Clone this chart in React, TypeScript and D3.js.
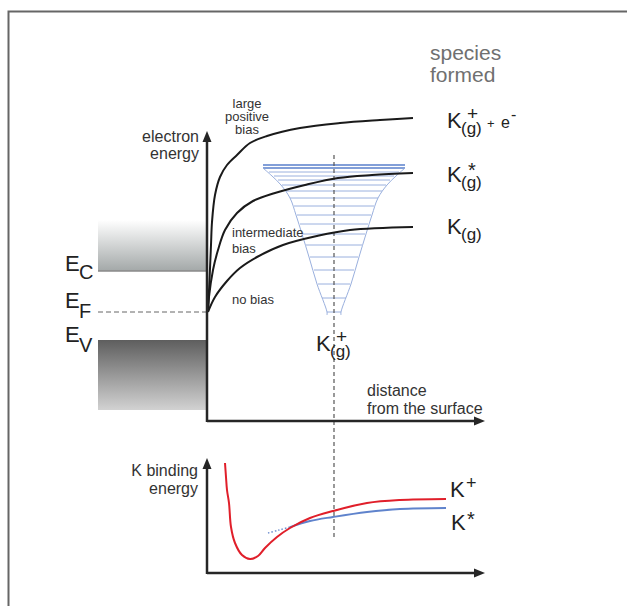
import * as d3 from "d3";

// distance from surface (arbitrary units) vs electron energy (arbitrary units)
const largeBias: [number, number][] = [
  [1, 109], [2.5, 141], [4, 176], [5, 199], [8, 226], [13, 244], [20, 256], [30, 266],
  [43, 278], [60, 285], [93, 293], [133, 298], [173, 301], [206, 303],
];
const intermediateBias: [number, number][] = [
  [1, 109], [2, 124], [6, 151], [11, 171], [18, 191], [30, 208], [46, 220], [68, 228],
  [98, 236], [131, 243], [165, 246], [206, 248],
];
const noBias: [number, number][] = [
  [1, 109], [8, 124], [20, 140], [33, 153], [50, 164], [76, 176], [110, 185], [143, 191], [206, 194],
];

// band edges (energy)
const conductionBand = [150, 201];
const valenceBand = [11, 81];
const fermiLevel = 109;
const bulkDepth = -109;

// K+ potential well: [energy, half width]
const ionCentre = 127;
const wellLevels: [number, number][] = [
  [256, 71], [253, 71], [249, 65], [245, 60], [241, 56], [236, 52], [230, 48], [223, 44],
  [215, 40], [206, 37], [197, 34], [187, 31], [176, 28], [164, 24], [151, 20], [137, 16],
  [123, 12], [109, 7],
];
const wellWall: [number, number][] = [
  [253, 71], [245, 62], [236, 53], [223, 44], [206, 38], [187, 32], [164, 25], [137, 17], [109, 7], [106, 7],
];

// binding energy vs distance
const kIon: [number, number][] = [
  [18, 110], [19, 96], [20, 83], [22, 70], [24, 46], [28, 30], [35, 18], [43, 14], [51, 17],
  [58, 25], [70, 36], [83, 45], [103, 55], [126, 62], [160, 70], [193, 73], [239, 74],
];
const kExcitedDotted: [number, number][] = [[61, 40], [72, 43], [83, 46]];
const kExcited: [number, number][] = [
  [83, 46], [103, 52], [126, 56], [160, 61], [193, 64], [239, 65],
];

const W = 627;
const H = 606;
const FONT = "'Liberation Sans', Arial, sans-serif";

export default function App() {
  const x = d3.scaleLinear().domain([0, 278]).range([207, 485]);
  const y = d3.scaleLinear().domain([0, 290]).range([421, 131]);
  const y2 = d3.scaleLinear().domain([0, 115]).range([573, 458]);

  const smooth = d3.curveCatmullRom.alpha(0.5);
  const line = d3.line<[number, number]>().x(d => x(d[0])).y(d => y(d[1])).curve(smooth);
  const line2 = d3.line<[number, number]>().x(d => x(d[0])).y(d => y2(d[1])).curve(smooth);
  const wallL = d3.line<[number, number]>().x(d => x(ionCentre - d[1])).y(d => y(d[0])).curve(smooth);
  const wallR = d3.line<[number, number]>().x(d => x(ionCentre + d[1])).y(d => y(d[0])).curve(smooth);

  const ax = "#262626";
  const x0 = x(0);
  const wellBlue = "#9ab0de";

  return (
    <svg width={W} height={H} style={{ position: "absolute", left: 0, top: 0, background: "#fff" }} fontFamily={FONT}>
      <defs>
        <linearGradient id="cb" x1="0" y1="0" x2="0" y2="1">
          <stop offset="0" stopColor="#ffffff" />
          <stop offset="1" stopColor="#a3a8a8" />
        </linearGradient>
        <linearGradient id="vb" x1="0" y1="0" x2="0" y2="1">
          <stop offset="0" stopColor="#5e5e5e" />
          <stop offset="1" stopColor="#d2d2d2" />
        </linearGradient>
      </defs>

      <rect x={8.5} y={11.5} width={700} height={700} fill="none" stroke="#666" strokeWidth={2} />

      {/* bands */}
      <rect x={x(bulkDepth)} y={y(conductionBand[1])} width={x0 - x(bulkDepth)}
        height={y(conductionBand[0]) - y(conductionBand[1])} fill="url(#cb)" />
      <line x1={x(bulkDepth)} x2={x0} y1={y(conductionBand[0])} y2={y(conductionBand[0])} stroke="#8a8a8a" strokeWidth={1.5} />
      <rect x={x(bulkDepth)} y={y(valenceBand[1])} width={x0 - x(bulkDepth)}
        height={y(valenceBand[0]) - y(valenceBand[1])} fill="url(#vb)" />
      <line x1={x(bulkDepth)} x2={x0} y1={y(fermiLevel)} y2={y(fermiLevel)} stroke="#666" strokeWidth={1} strokeDasharray="5,3" />

      {/* potential well */}
      {wellLevels.map((d, i) => (
        <line key={i} x1={x(ionCentre - d[1])} x2={x(ionCentre + d[1])} y1={y(d[0])} y2={y(d[0])}
          stroke={i < 2 ? "#829fd8" : wellBlue} strokeWidth={i < 2 ? 2 : 1} />
      ))}
      <path d={wallL(wellWall) ?? ""} fill="none" stroke={wellBlue} strokeWidth={1} />
      <path d={wallR(wellWall) ?? ""} fill="none" stroke={wellBlue} strokeWidth={1} />

      {/* dashed ion position */}
      <line x1={x(ionCentre)} x2={x(ionCentre)} y1={155} y2={539} stroke="#555" strokeWidth={1.2} strokeDasharray="4,3" />

      {/* energy curves */}
      {[largeBias, intermediateBias, noBias].map((c, i) => (
        <path key={i} d={line(c) ?? ""} fill="none" stroke="#1a1a1a" strokeWidth={2} />
      ))}

      {/* upper axes */}
      <line x1={x0} x2={x0} y1={y(0) + 1} y2={y(285)} stroke={ax} strokeWidth={2.5} />
      <path d={`M${x0},${y(290)} L${x0 - 4.5},${y(290) + 11} L${x0 + 4.5},${y(290) + 11} Z`} fill={ax} />
      <line x1={x0} x2={x(272)} y1={y(0)} y2={y(0)} stroke={ax} strokeWidth={2.5} />
      <path d={`M${x(278)},${y(0)} L${x(278) - 11},${y(0) - 4.5} L${x(278) - 11},${y(0) + 4.5} Z`} fill={ax} />

      {/* lower curves */}
      <path d={line2(kExcitedDotted) ?? ""} fill="none" stroke="#6f8fd0" strokeWidth={1.5} strokeDasharray="1.5,2" />
      <path d={line2(kExcited) ?? ""} fill="none" stroke="#5f83cc" strokeWidth={1.8} />
      <path d={line2(kIon) ?? ""} fill="none" stroke="#e01f2a" strokeWidth={2} />

      {/* lower axes */}
      <line x1={x0} x2={x0} y1={y2(0) + 1} y2={y2(110)} stroke={ax} strokeWidth={2.5} />
      <path d={`M${x0},${y2(115)} L${x0 - 4.5},${y2(115) + 11} L${x0 + 4.5},${y2(115) + 11} Z`} fill={ax} />
      <line x1={x0} x2={x(272)} y1={y2(0)} y2={y2(0)} stroke={ax} strokeWidth={2.5} />
      <path d={`M${x(278)},${y2(0)} L${x(278) - 11},${y2(0) - 4.5} L${x(278) - 11},${y2(0) + 4.5} Z`} fill={ax} />

      {/* axis titles */}
      <g fill="#333" fontSize={16} textAnchor="end">
        <text x={199} y={142}>electron</text>
        <text x={199} y={159}>energy</text>
        <text x={198} y={476}>K binding</text>
        <text x={198} y={494}>energy</text>
      </g>
      <g fill="#333" fontSize={16}>
        <text x={367} y={396}>distance</text>
        <text x={367} y={414}>from the surface</text>
      </g>
      <g fill="#707070" fontSize={21}>
        <text x={430} y={60}>species</text>
        <text x={430} y={82}>formed</text>
      </g>

      {/* curve labels */}
      <g fill="#333" fontSize={13}>
        <text x={247} y={108} textAnchor="middle">large</text>
        <text x={247} y={121} textAnchor="middle">positive</text>
        <text x={247} y={134} textAnchor="middle">bias</text>
        <text x={232} y={237}>intermediate</text>
        <text x={232} y={253}>bias</text>
        <text x={232} y={304}>no bias</text>
      </g>

      {/* band labels */}
      <g fill="#222">
        <text x={65} y={271} fontSize={22}>E<tspan x={79} y={279} fontSize={20}>C</tspan></text>
        <text x={65} y={308} fontSize={22}>E<tspan x={79} y={318} fontSize={20}>F</tspan></text>
        <text x={65} y={342} fontSize={22}>E<tspan x={79} y={352} fontSize={20}>V</tspan></text>
      </g>

      {/* species labels */}
      <g fill="#222" fontSize={22}>
        <text x={447} y={128}>K
          <tspan x={461} y={134} fontSize={17}>(g)</tspan>
          <tspan x={467} y={120} fontSize={19}>+</tspan>
          <tspan x={487} y={128} fontSize={13}>+</tspan>
          <tspan x={501} y={128} fontSize={16}>e</tspan>
          <tspan x={511} y={120} fontSize={16}>-</tspan>
        </text>
        <text x={447} y={182}>K
          <tspan x={461} y={188} fontSize={17}>(g)</tspan>
          <tspan x={468} y={177} fontSize={20}>*</tspan>
        </text>
        <text x={447} y={234}>K
          <tspan x={461} y={240} fontSize={17}>(g)</tspan>
        </text>
        <text x={316} y={351}>K
          <tspan x={330} y={357} fontSize={17}>(g)</tspan>
          <tspan x={336} y={343} fontSize={19}>+</tspan>
        </text>
        <text x={450} y={497}>K
          <tspan x={466} y={489} fontSize={18}>+</tspan>
        </text>
        <text x={451} y={530}>K
          <tspan x={467} y={526} fontSize={20}>*</tspan>
        </text>
      </g>
    </svg>
  );
}
